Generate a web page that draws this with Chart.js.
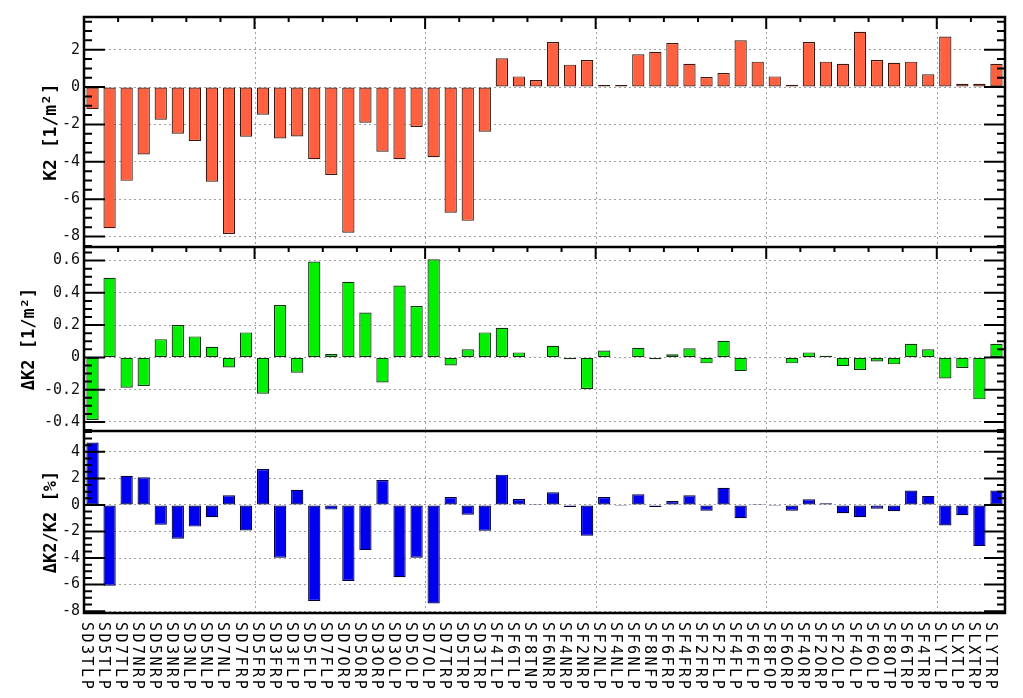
<!DOCTYPE html>
<html>
<head>
<meta charset="utf-8">
<script src="https://cdn.jsdelivr.net/npm/chart.js@4.4.1/dist/chart.umd.min.js"></script>
<style>
  html, body { margin: 0; padding: 0; background: #fff; }
  #wrap { position: relative; width: 1023px; height: 698px; }
  canvas { position: absolute; left: 0; }
</style>
</head>
<body>
<div id="wrap">
  <canvas id="k2" width="1023" height="247" style="top:0"></canvas>
  <canvas id="dk2" width="1023" height="184" style="top:247px"></canvas>
  <canvas id="rel" width="1023" height="267" style="top:431px"></canvas>
</div>
<script>
// magnet names (x categories)
const magnets = [
  "SD3TLP","SD5TLP","SD7TLP","SD7NRP","SD5NRP","SD3NRP","SD3NLP","SD5NLP","SD7NLP","SD7FRP",
  "SD5FRP","SD3FRP","SD3FLP","SD5FLP","SD7FLP","SD7ORP","SD5ORP","SD3ORP","SD3OLP","SD5OLP",
  "SD7OLP","SD7TRP","SD5TRP","SD3TRP","SF4TLP","SF6TLP","SF8TNP","SF6NRP","SF4NRP","SF2NRP",
  "SF2NLP","SF4NLP","SF6NLP","SF8NFP","SF6FRP","SF4FRP","SF2FRP","SF2FLP","SF4FLP","SF6FLP",
  "SF8FOP","SF6ORP","SF4ORP","SF2ORP","SF2OLP","SF4OLP","SF6OLP","SF8OTP","SF6TRP","SF4TRP",
  "SLYTLP","SLXTLP","SLXTRP","SLYTRP"
];

// K2 [1/m^2]
const k2 = [
  -1.18, -7.55, -5.02, -3.61, -1.75, -2.50, -2.89, -5.07, -7.86, -2.66,
  -1.48, -2.75, -2.64, -3.86, -4.71, -7.80, -1.91, -3.46, -3.86, -2.14,
  -3.75, -6.73, -7.16, -2.39, 1.54, 0.57, 0.38, 2.41, 1.20, 1.45,
  0.11, 0.11, 1.75, 1.89, 2.36, 1.25, 0.54, 0.75, 2.50, 1.36,
  0.57, 0.13, 2.41, 1.36, 1.25, 2.96, 1.45, 1.30, 1.36, 0.68,
  2.71, 0.18, 0.18, 1.25
];

// dK2 [1/m^2]
const dk2 = [
  -0.388, 0.493, -0.188, -0.177, 0.113, 0.200, 0.130, 0.066, -0.062, 0.155,
  -0.225, 0.324, -0.095, 0.594, 0.021, 0.468, 0.278, -0.155, 0.445, 0.318,
  0.608, -0.050, 0.050, 0.155, 0.184, 0.031, 0.004, 0.072, -0.012, -0.196,
  0.043, -0.006, 0.060, -0.012, 0.019, 0.056, -0.037, 0.103, -0.085, 0.003,
  -0.006, -0.037, 0.031, 0.010, -0.054, -0.078, -0.025, -0.043, 0.085, 0.050,
  -0.130, -0.066, -0.260, 0.085
];

// dK2/K2 [%]
const relPct = [
  4.70, -6.08, 2.20, 2.08, -1.50, -2.55, -1.63, -0.93, 0.73, -1.93,
  2.70, -3.98, 1.15, -7.23, -0.35, -5.73, -3.40, 1.88, -5.45, -3.98,
  -7.43, 0.60, -0.73, -1.95, 2.28, 0.45, 0.075, 0.95, -0.15, -2.33,
  0.60, -0.075, 0.80, -0.15, 0.30, 0.73, -0.43, 1.30, -1.00, 0.075,
  -0.075, -0.43, 0.43, 0.125, -0.63, -0.93, -0.28, -0.48, 1.08, 0.68,
  -1.55, -0.78, -3.10, 1.08
];

// tick labels
const k2Ticks = [-8, -6, -4, -2, 0, 2];
const dk2Ticks = [-0.4, -0.2, 0, 0.2, 0.4, 0.6];
const relTicks = [-8, -6, -4, -2, 0, 2, 4];

const MONO = "'DejaVu Sans Mono', 'Liberation Mono', monospace";

// pixel of the boundary between category i-1 and i
function edgePx(x, i) {
  return (x.getPixelForValue(i - 1) + x.getPixelForValue(i)) / 2;
}

const framePlugin = {
  id: 'frame',
  beforeDatasetsDraw(chart) {
    const { ctx, chartArea: a, scales: { x } } = chart;
    ctx.save();
    ctx.strokeStyle = '#a0a0a0';
    ctx.lineWidth = 1;
    ctx.setLineDash([2, 3]);
    for (let i = 10; i < magnets.length; i += 10) {
      const px = Math.round(edgePx(x, i)) + 0.5;
      ctx.beginPath();
      ctx.moveTo(px, a.top);
      ctx.lineTo(px, a.bottom);
      ctx.stroke();
    }
    ctx.restore();
  },
  afterDatasetsDraw(chart, args, opts) {
    const { ctx, chartArea: a, scales: { x, y } } = chart;
    ctx.save();
    ctx.strokeStyle = '#000';
    ctx.lineWidth = 2;
    // y ticks, inward on both sides
    const step = opts.minorStep;
    for (let k = Math.ceil(y.min / step - 1e-9); k * step <= y.max + 1e-9; k++) {
      const v = k * step;
      const major = opts.majors.some(m => Math.abs(m - v) < 1e-9);
      const len = major ? 21 : 8;
      const py = y.getPixelForValue(v);
      ctx.beginPath();
      ctx.moveTo(a.left, py); ctx.lineTo(a.left + len, py);
      ctx.moveTo(a.right, py); ctx.lineTo(a.right - len, py);
      ctx.stroke();
    }
    // x ticks at top of panel
    if (opts.topTicks) {
      for (let i = 2; i < magnets.length; i += 2) {
        const px = edgePx(x, i);
        const len = i % 10 === 0 ? 12 : 5;
        ctx.beginPath();
        ctx.moveTo(px, a.top); ctx.lineTo(px, a.top + len);
        ctx.stroke();
      }
    }
    ctx.lineWidth = 2.5;
    ctx.strokeRect(a.left, a.top, a.right - a.left, a.bottom - a.top);
    ctx.restore();
  },
  afterDraw(chart, args, opts) {
    if (!opts.labels) return;
    const { ctx, chartArea: a, scales: { x } } = chart;
    ctx.save();
    ctx.fillStyle = '#000';
    ctx.font = '15px ' + MONO;
    ctx.textAlign = 'left';
    ctx.textBaseline = 'alphabetic';
    if ('letterSpacing' in ctx) ctx.letterSpacing = '2.5px';
    magnets.forEach((name, i) => {
      ctx.save();
      ctx.translate(x.getPixelForValue(i) - 10.5, a.bottom + 9);
      ctx.rotate(Math.PI / 2);
      ctx.fillText(name, 0, 0);
      ctx.restore();
    });
    ctx.restore();
  }
};

function panel(id, cfg) {
  return new Chart(document.getElementById(id), {
    type: 'bar',
    data: {
      labels: magnets,
      datasets: [{
        data: cfg.values,
        backgroundColor: cfg.fill,
        borderColor: cfg.edge,
        borderWidth: 1.2,
        borderSkipped: false,
        barPercentage: 0.72,
        categoryPercentage: 1
      }]
    },
    options: {
      responsive: false,
      animation: false,
      layout: { padding: { top: cfg.padTop, right: 18, bottom: cfg.padBottom, left: 0 } },
      plugins: {
        legend: { display: false },
        tooltip: { enabled: false },
        frame: { minorStep: cfg.minor, majors: cfg.ticks, topTicks: cfg.topTicks, labels: cfg.labels }
      },
      scales: {
        x: { display: false },
        y: {
          min: cfg.min,
          max: cfg.max,
          afterBuildTicks: s => { s.ticks = cfg.ticks.map(v => ({ value: v })); },
          afterFit: s => { s.width = 84; s.paddingTop = 0; s.paddingBottom = 0; },
          ticks: { font: { family: MONO, size: 15 }, color: '#111', padding: 4, autoSkip: false },
          grid: { color: '#a0a0a0', lineWidth: 1, drawTicks: false },
          border: { display: false, dash: [2, 3] },
          title: {
            display: true,
            text: cfg.title,
            color: '#000',
            font: { family: MONO, size: cfg.titleSize, weight: 'bold' },
            padding: { top: cfg.titlePad, bottom: 0 }
          }
        }
      }
    },
    plugins: [framePlugin]
  });
}

panel('k2', {
  values: k2, fill: '#ff6040', edge: '#3a1a10',
  min: -8.56, max: 3.75, ticks: k2Ticks, minor: 0.5,
  title: 'K2 [1/m\u00b2]', titleSize: 18, titlePad: 41,
  padTop: 17, padBottom: 0, topTicks: true, labels: false
});

panel('dk2', {
  values: dk2, fill: '#00f000', edge: '#103010',
  min: -0.456, max: 0.684, ticks: dk2Ticks, minor: 0.05,
  title: '\u0394K2 [1/m\u00b2]', titleSize: 17, titlePad: 19,
  padTop: 0, padBottom: 0, topTicks: true, labels: false
});

panel('rel', {
  values: relPct, fill: '#0000f0', edge: '#000040',
  min: -8.14, max: 5.57, ticks: relTicks, minor: 0.5,
  title: '\u0394K2/K2 [%]', titleSize: 17, titlePad: 41,
  padTop: 0, padBottom: 85, topTicks: false, labels: true
});
</script>
</body>
</html>
